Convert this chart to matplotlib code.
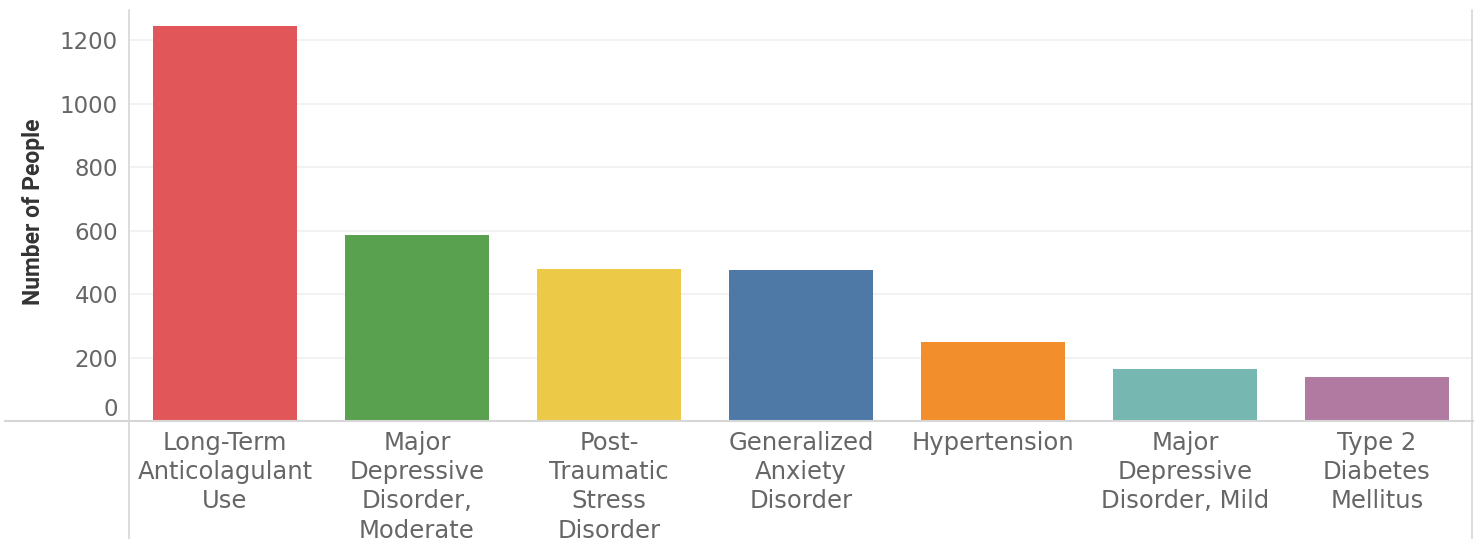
import matplotlib.pyplot as plt
from matplotlib.lines import Line2D

categories = ["Long-Term\nAnticolagulant\nUse", "Major\nDepressive\nDisorder,\nModerate",
              "Post-\nTraumatic\nStress\nDisorder", "Generalized\nAnxiety\nDisorder",
              "Hypertension", "Major\nDepressive\nDisorder, Mild", "Type 2\nDiabetes\nMellitus"]
people = [1244, 586, 479, 476, 249, 164, 139]
colors = ["#E15759", "#59A14F", "#EDC948", "#4E79A7", "#F28E2B", "#76B7B2", "#B07AA1"]
yticks = [0, 200, 400, 600, 800, 1000, 1200]

fig = plt.figure(figsize=(14.77, 5.39), dpi=100)
ax = fig.add_axes([129/1477, 118/539, 1344/1477, 411/539])

x = range(len(categories))
ax.bar(x, people, width=0.745, color=colors, zorder=3)
ax.set_xlim(-0.5, len(categories) - 0.5)
ax.set_ylim(0, 1295)

ax.set_yticks(yticks)
ax.set_yticklabels([str(v) for v in yticks], fontsize=16.5, color="#666666",
                   family="DejaVu Sans")
ax.get_yticklabels()[0].set_va("bottom")
ax.set_xticks(list(x))
ax.set_xticklabels(categories, fontsize=17.5, color="#666666", linespacing=1.28,
                   family="DejaVu Sans")
ax.tick_params(axis="x", length=0, pad=7)
ax.tick_params(axis="y", length=0, pad=8)

ax.grid(axis="y", color="#f0f0f0", lw=1.2, zorder=0)
for s in ax.spines.values():
    s.set_visible(False)

ax.set_ylabel("Number of People", fontsize=16.5, fontweight="bold", color="#333333",
              family="Roboto")
ax.yaxis.set_label_coords(-84/1344, (421-212)/411)

# frame lines reaching to the figure edges, like the source
lc = "#d6d6d6"
fig.add_artist(Line2D([5/1477, 1473/1477], [118/539, 118/539], color=lc, lw=1.5))
fig.add_artist(Line2D([129/1477, 129/1477], [0, 529/539], color=lc, lw=1.2))
fig.add_artist(Line2D([1472/1477, 1472/1477], [0, 529/539], color=lc, lw=1.2))

fig.savefig("out.png", dpi=100, facecolor="white")
